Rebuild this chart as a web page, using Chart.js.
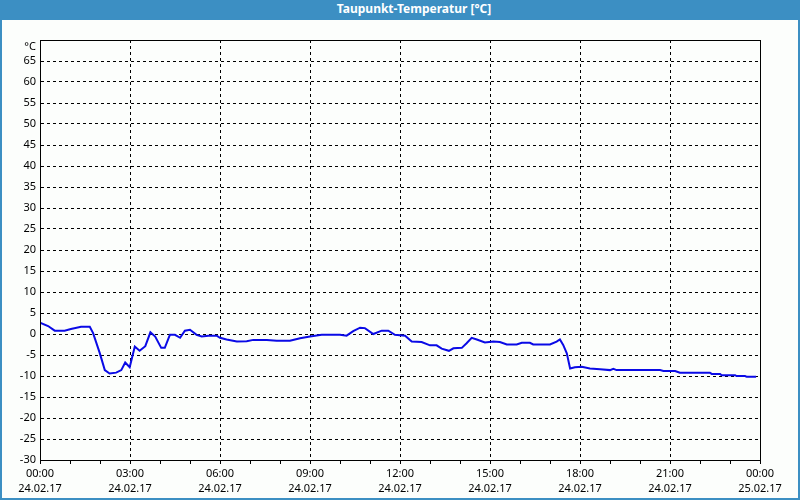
<!DOCTYPE html>
<html>
<head>
<meta charset="utf-8">
<script src="https://cdn.jsdelivr.net/npm/chart.js@4"></script>
<style>
  body { margin: 0; background: #3c8fc3; }
  #frame { position: relative; width: 800px; height: 500px; background: #3c8fc3; }
  #title { position: absolute; left: 0; top: 0; width: 828px; height: 20px; line-height: 20px;
    text-align: center; color: #fff; font: bold 12px "Noto Sans", sans-serif; }
  #wrap { position: absolute; left: 2px; top: 20px; width: 796px; height: 478px; background: #fcfefc; }
</style>
</head>
<body>
<div id="frame">
  <div id="title">Taupunkt-Temperatur [°C]</div>
  <div id="wrap"><canvas id="chart" width="796" height="478"></canvas></div>
</div>
<script>
// dew point readings, hours since 24.02.17 00:00
let hours = [0, 0.27, 0.49, 0.82, 1.03, 1.37, 1.66, 1.77, 1.99, 2.16, 2.32, 2.54, 2.71, 2.84, 2.99,
  3.16, 3.32, 3.51, 3.68, 3.84, 4.04, 4.16, 4.33, 4.5, 4.67, 4.83, 5.0, 5.22, 5.39, 5.61, 5.89,
  6.0, 6.22, 6.56, 6.89, 7.11, 7.56, 7.89, 8.33, 8.67, 9.0, 9.39, 10.0, 10.22, 10.44, 10.67, 10.83,
  11.11, 11.39, 11.61, 11.83, 12.17, 12.39, 12.72, 13.0, 13.22, 13.39, 13.63, 13.78, 14.06, 14.22,
  14.39, 14.56, 14.83, 15.11, 15.33, 15.56, 15.89, 16.06, 16.33, 16.44, 17.0, 17.22, 17.33, 17.44,
  17.56, 17.67, 17.83, 18.06, 18.33, 18.67, 19.0, 19.11, 19.22, 20.67, 20.78, 21.17, 21.33, 22.33,
  22.39, 22.67, 22.72, 23.17, 23.22, 23.5, 23.56, 23.87]
let dewPoint = [2.7, 1.9, 0.8, 0.8, 1.2, 1.7, 1.7, 0.2, -4.5, -8.6, -9.4, -9.2, -8.6, -6.8, -7.9,
  -3.0, -4.0, -2.9, 0.4, -0.6, -3.3, -3.3, -0.2, -0.2, -0.9, 0.8, 1.0, -0.2, -0.6, -0.4, -0.4,
  -0.9, -1.3, -1.8, -1.7, -1.4, -1.4, -1.6, -1.6, -1.0, -0.6, -0.2, -0.2, -0.4, 0.7, 1.5, 1.4,
  0.0, 0.8, 0.8, -0.2, -0.4, -1.8, -1.9, -2.7, -2.7, -3.5, -4.0, -3.4, -3.3, -2.2,
  -0.9, -1.3, -2.0, -1.8, -1.9, -2.5, -2.5, -2.1, -2.1, -2.5, -2.5, -1.8, -1.3, -2.6,
  -4.6, -8.2, -7.9, -7.8, -8.2, -8.4, -8.6, -8.3, -8.6, -8.6, -8.8, -8.8, -9.2, -9.2,
  -9.5, -9.5, -9.8, -9.8, -10.0, -10.0, -10.2, -10.2]

let timeLabels = ['00:00', '03:00', '06:00', '09:00', '12:00', '15:00', '18:00', '21:00', '00:00']
let dateLabels = ['24.02.17', '24.02.17', '24.02.17', '24.02.17', '24.02.17', '24.02.17', '24.02.17', '24.02.17', '25.02.17']

let points = hours.map((h, i) => ({ x: h, y: dewPoint[i] }))

// solid frame round the plot area
const frameBox = {
  id: 'frameBox',
  afterDraw(chart) {
    const { ctx, chartArea: a } = chart
    ctx.save()
    ctx.strokeStyle = '#000'
    ctx.lineWidth = 1
    ctx.strokeRect(Math.round(a.left) + 0.5, Math.round(a.top) + 0.5,
      Math.round(a.right - a.left), Math.round(a.bottom - a.top))
    ctx.restore()
  }
}

const font = { family: 'Noto Sans', size: 11 }

new Chart('chart', {
  type: 'line',
  data: {
    datasets: [{
      data: points,
      borderColor: '#0a0ae6',
      borderWidth: 2,
      pointRadius: 0,
      tension: 0,
      fill: false
    }]
  },
  options: {
    animation: false,
    responsive: false,
    layout: { padding: { left: 0, top: 20, right: 38, bottom: 0 } },
    plugins: { legend: { display: false }, tooltip: { enabled: false } },
    scales: {
      x: {
        type: 'linear',
        min: 0,
        max: 24,
        afterFit: s => { s.height = 38 },
        ticks: {
          stepSize: 1,
          autoSkip: false,
          maxRotation: 0,
          padding: 2,
          color: '#000',
          font: { family: 'Noto Sans', size: 11, lineHeight: '15px' },
          callback: v => v % 3 === 0 ? [timeLabels[v / 3], dateLabels[v / 3]] : ''
        },
        grid: {
          color: c => (c.tick && c.tick.value % 3 === 0) ? '#000' : 'rgba(0,0,0,0)',
          tickColor: '#000',
          tickLength: 4
        },
        border: { dash: [3, 3], color: '#000' }
      },
      y: {
        min: -30,
        max: 70,
        afterFit: s => { s.width = 38 },
        ticks: {
          stepSize: 5,
          autoSkip: false,
          padding: 4,
          color: '#000',
          font: font,
          // unit sits a little below the top line
          callback: v => v === 70 ? ['', '°C'] : v
        },
        grid: { color: '#000', drawTicks: false },
        border: { dash: [3, 3], color: '#000' }
      }
    }
  },
  plugins: [frameBox]
})
</script>
</body>
</html>
